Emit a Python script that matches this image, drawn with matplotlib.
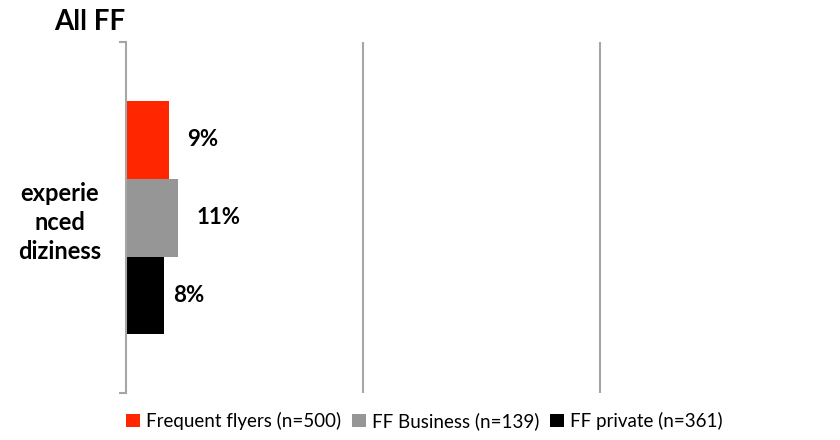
import matplotlib.pyplot as plt
import numpy as np

plt.rcParams['font.family'] = ['Lato', 'DejaVu Sans']

category = "experie\nnced\ndiziness"
series = ["Frequent flyers (n=500)", "FF Business (n=139)", "FF private (n=361)"]
values = [0.09, 0.11, 0.08]
labels = ["9%", "11%", "8%"]
colors = ["#ff2600", "#969696", "#000000"]
label_offsets = [13, 13, 6.5]

fig = plt.figure(figsize=(8.4, 4.4), dpi=100)
ax = fig.add_axes([0.15, 0.107, 0.846, 0.797])

h = 0.222
ypos = [h, 0, -h]
for y, v, c, s, lab, off in zip(ypos, values, colors, series, labels, label_offsets):
    ax.barh(y, v, height=h, color=c, label=s)
    ax.annotate(lab, (v, y), xytext=(off, 0), textcoords="offset points",
                ha="left", va="center", fontsize=16, fontweight="bold")

ax.set_xlim(0, 1.5)
ax.set_ylim(-0.5, 0.5)
for gx in [0.5, 1.0]:
    ax.axvline(gx, color="#a6a6a6", lw=1.5, zorder=0)

for sp in ["top", "right", "bottom"]:
    ax.spines[sp].set_visible(False)
ax.spines["left"].set_color("#a6a6a6")
ax.spines["left"].set_linewidth(1.5)
ax.set_xticks([])
ax.set_yticks([-0.5, 0.5])
ax.set_yticklabels([])
ax.tick_params(axis="y", which="major", length=5, width=1.5, color="#a6a6a6")
ax.set_yticks([0], [category], minor=True)
ax.tick_params(axis="y", which="minor", length=0, pad=18)
for t in ax.get_yticklabels(minor=True):
    t.set_fontsize(17)
    t.set_fontweight("bold")
    t.set_multialignment("center")
    t.set_linespacing(1.3)

fig.text(0.065, 0.95, "All FF", fontsize=20, fontweight="bold", ha="left", va="center")

fig.legend(loc="center", bbox_to_anchor=(0.505, 0.043), ncol=3, frameon=False,
           fontsize=13.5, handlelength=0.75, handleheight=0.75, handletextpad=0.3,
           columnspacing=0.6)

plt.savefig("out.png", dpi=100)
